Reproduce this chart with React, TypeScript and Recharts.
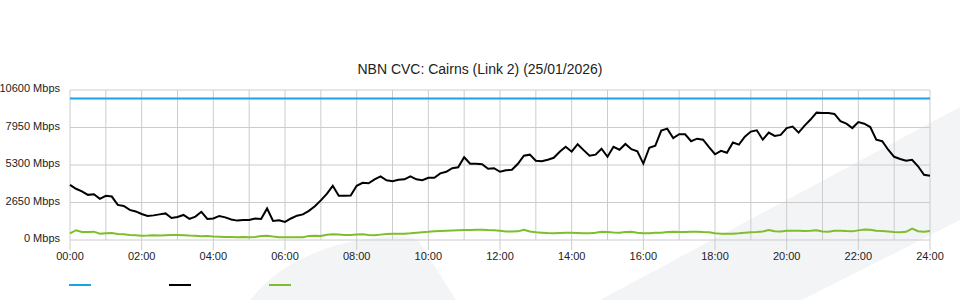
import { CartesianGrid, Line, LineChart, XAxis, YAxis } from 'recharts'

// 10-minute samples, 00:00 .. 24:00
const inboundMbps = [
  3900, 3620, 3440, 3190, 3230, 2910, 3120, 3070, 2480, 2410,
  2130, 2020, 1840, 1700, 1740, 1810, 1880, 1560, 1630, 1770,
  1490, 1650, 1990, 1490, 1520, 1700, 1600, 1450, 1370, 1420,
  1420, 1520, 1490, 2230, 1350, 1400, 1280, 1520, 1720, 1810,
  2060, 2380, 2800, 3260, 3830, 3120, 3120, 3150, 3830, 4040,
  4010, 4290, 4500, 4220, 4150, 4250, 4290, 4500, 4290, 4220,
  4400, 4400, 4710, 4820, 5070, 5140, 5850, 5390, 5390, 5350,
  5030, 5070, 4820, 4930, 4960, 5390, 5960, 6030, 5600, 5570,
  5670, 5810, 6240, 6590, 6240, 6770, 6350, 5960, 6030, 6450,
  5880, 6590, 6380, 6790, 6420, 6270, 5400, 6520, 6660, 7730,
  7870, 7200, 7480, 7470, 6980, 7160, 7090, 6560, 6060, 6300,
  6170, 6890, 6740, 7300, 7660, 7750, 7090, 7590, 7350, 7430,
  7910, 8010, 7590, 8080, 8510, 9000, 8970, 8970, 8910, 8400,
  8220, 7910, 8330, 8220, 7980, 7090, 6980, 6380, 5880, 5720,
  5600, 5670, 5210, 4610, 4540,
]

const outboundMbps = [
  470, 690, 570, 560, 590, 450, 480, 500, 420, 400,
  350, 330, 300, 310, 330, 320, 340, 360, 350, 330,
  310, 300, 260, 280, 240, 230, 220, 210, 200, 210,
  200, 220, 280, 300, 240, 200, 190, 190, 200, 190,
  290, 300, 280, 370, 400, 380, 350, 350, 380, 400,
  360, 330, 380, 430, 450, 440, 440, 470, 520, 550,
  580, 620, 640, 660, 680, 690, 700, 710, 730, 720,
  700, 690, 650, 600, 600, 610, 730, 600, 550, 520,
  490, 470, 490, 510, 520, 500, 480, 470, 510, 580,
  560, 530, 510, 560, 580, 520, 470, 480, 510, 520,
  560, 580, 570, 560, 590, 590, 560, 540, 480, 450,
  450, 450, 470, 520, 540, 560, 600, 700, 620, 600,
  650, 660, 650, 640, 660, 690, 600, 580, 660, 660,
  630, 610, 680, 740, 720, 660, 630, 600, 560, 540,
  580, 800, 620, 580, 640,
]

const capacityMbps = 10000

const yTicks = [0, 2650, 5300, 7950, 10600]
const hourTicks = [0, 1, 2, 3, 4, 5, 6, 7, 8, 9, 10, 11, 12, 13, 14, 15, 16, 17, 18, 19, 20, 21, 22, 23, 24]

const COLORS = { capacity: '#1ea1e0', inbound: '#000000', outbound: '#7cbf2a' }
const FONT = '"Liberation Sans", Arial, sans-serif'

const chartData = inboundMbps.map((v, i) => ({
  t: i / 6,
  capacity: capacityMbps,
  inbound: v,
  outbound: outboundMbps[i],
}))

function HourTick({ x, y, payload }: any) {
  const h = payload.value as number
  if (h % 2 !== 0) return <g />
  return (
    <g>
      <line x1={x} x2={x} y1={y} y2={y + 10} stroke="#ccc" />
      <text x={x} y={y + 20} textAnchor="middle" fontSize={11} fill="#222" fontFamily={FONT}>
        {`${String(h).padStart(2, '0')}:00`}
      </text>
    </g>
  )
}

function MbpsTick({ x, y, payload }: any) {
  return (
    <text x={x} y={y + 2} textAnchor="end" fontSize={11} fill="#222" fontFamily={FONT}>
      {`${payload.value} Mbps`}
    </text>
  )
}

function Watermark() {
  return (
    <svg width={960} height={300} style={{ position: 'absolute', left: 0, top: 0 }}>
      <path d="M 250 300 C 280 262, 330 241, 385 237 C 405 236, 414 237, 418 240 L 456 300 Z" fill="#f3f4f6" />
      <polygon points="600,300 960,107 960,220 802,300" fill="#f3f4f6" />
    </svg>
  )
}

export default function App() {
  return (
    <div style={{ position: 'absolute', left: 0, top: 0, width: 960, height: 300, fontFamily: FONT }}>
      <Watermark />
      <div style={{ position: 'absolute', top: 61, left: 0, width: 960, textAlign: 'center', fontSize: 14, color: '#222' }}>
        NBN CVC: Cairns (Link 2) (25/01/2026)
      </div>
      <div style={{ position: 'absolute', left: 0, top: 0 }}>
        <LineChart width={960} height={300} data={chartData} margin={{ top: 90, right: 30, left: 0, bottom: 30 }}>
          <CartesianGrid stroke="#ccc" />
          <XAxis
            type="number"
            dataKey="t"
            domain={[0, 24]}
            ticks={hourTicks}
            interval={0}
            tickSize={0}
            tickMargin={0}
            tickLine={false}
            axisLine={false}
            height={30}
            tick={<HourTick />}
          />
          <YAxis
            domain={[0, 10600]}
            ticks={yTicks}
            width={70}
            tickLine={false}
            axisLine={false}
            tickMargin={4}
            tick={<MbpsTick />}
          />
          <Line dataKey="capacity" stroke={COLORS.capacity} strokeWidth={2} dot={false} isAnimationActive={false} />
          <Line dataKey="outbound" stroke={COLORS.outbound} strokeWidth={2} dot={false} isAnimationActive={false} />
          <Line dataKey="inbound" stroke={COLORS.inbound} strokeWidth={2} dot={false} isAnimationActive={false} />
        </LineChart>
      </div>
      {/* legend swatches, no labels in the source */}
      {[COLORS.capacity, COLORS.inbound, COLORS.outbound].map((c, i) => (
        <div key={c} style={{ position: 'absolute', left: 69 + i * 100, top: 284, width: 22, height: 2, background: c }} />
      ))}
    </div>
  )
}
